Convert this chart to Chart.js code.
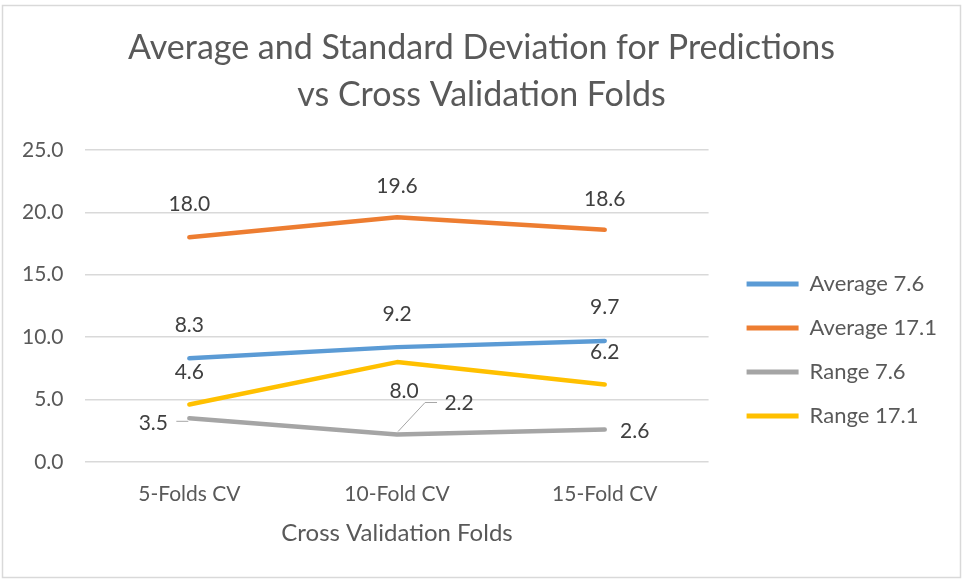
<!DOCTYPE html>
<html>
<head>
<meta charset="utf-8">
<script src="https://cdn.jsdelivr.net/npm/chart.js@4"></script>
<style>
html,body{margin:0;padding:0;background:#fff;}
#wrap{position:relative;width:963px;height:581px;}
</style>
</head>
<body>
<div id="wrap"><canvas id="c" width="963" height="581"></canvas></div>
<script>
const categories = ['5-Folds CV', '10-Fold CV', '15-Fold CV'];
const average76 = [8.3, 9.2, 9.7];
const average171 = [18.0, 19.6, 18.6];
const range76 = [3.5, 2.2, 2.6];
const range171 = [4.6, 8.0, 6.2];
const seriesNames = ['Average 7.6', 'Average 17.1', 'Range 7.6', 'Range 17.1'];
const titleLines = ['Average and Standard Deviation for Predictions', 'vs Cross Validation Folds'];
const xTitle = 'Cross Validation Folds';

const colors = ['#5B9BD5', '#ED7D31', '#A5A5A5', '#FFC000'];
// label offsets (dx, dy) relative to each point, per series
const labelOffsets = [
  [[0,-33],[0,-33],[0,-34]],
  [[0,-33],[0,-31],[0,-31]],
  [[-36,5],[62,-31],[30,2]],
  [[0,-32],[7,29],[0,-32]]
];
const FONT = 'Lato, "Open Sans", sans-serif';
const LEGEND_SHIFT = 16;
const TITLE_SHIFT = 16;

const labelPlugin = {
  id: 'pointLabels',
  afterLayout(chart) {
    // push the legend items away from the plot area, centre title on the frame
    if (chart.legend) { chart.legend.left += LEGEND_SHIFT; chart.legend.right += LEGEND_SHIFT; }
    if (chart.titleBlock) { chart.titleBlock.left += TITLE_SHIFT; chart.titleBlock.right += TITLE_SHIFT; }
  },
  afterDatasetsDraw(chart) {
    const ctx = chart.ctx;
    ctx.save();
    ctx.font = '21px ' + FONT;
    ctx.fillStyle = '#404040';
    ctx.textAlign = 'center';
    ctx.textBaseline = 'middle';
    chart.data.datasets.forEach((ds, i) => {
      const meta = chart.getDatasetMeta(i);
      meta.data.forEach((pt, j) => {
        const [dx, dy] = labelOffsets[i][j];
        ctx.fillText(ds.data[j].toFixed(1), pt.x + dx, pt.y + dy);
      });
    });
    // leader lines for the gray series
    const g = chart.getDatasetMeta(2).data;
    ctx.strokeStyle = '#A6A6A6';
    ctx.lineWidth = 1;
    ctx.beginPath();
    ctx.moveTo(g[0].x - 13, g[0].y + 3);
    ctx.lineTo(g[0].x - 1, g[0].y + 3);
    ctx.moveTo(g[1].x + 1, g[1].y - 3);
    ctx.lineTo(g[1].x + 28, g[1].y - 32);
    ctx.lineTo(g[1].x + 40, g[1].y - 32);
    ctx.stroke();
    ctx.restore();
  }
};

const borderPlugin = {
  id: 'frame',
  beforeDraw(chart) {
    const ctx = chart.ctx;
    ctx.save();
    ctx.fillStyle = '#fff';
    ctx.fillRect(0, 0, chart.width, chart.height);
    ctx.strokeStyle = '#D9D9D9';
    ctx.lineWidth = 1.5;
    ctx.strokeRect(2.5, 5.5, 958, 572);
    ctx.restore();
  }
};

const series = [average76, average171, range76, range171];
new Chart(document.getElementById('c'), {
  type: 'line',
  data: {
    labels: categories,
    datasets: series.map((d, i) => ({
      label: seriesNames[i],
      data: d,
      borderColor: colors[i],
      backgroundColor: colors[i],
      borderWidth: 4.5,
      pointRadius: 0,
      tension: 0,
      borderCapStyle: 'round',
      borderJoinStyle: 'round'
    }))
  },
  options: {
    responsive: false,
    animation: false,
    layout: { padding: { left: 0, right: 32, top: 0, bottom: 33 } },
    plugins: {
      title: {
        display: true,
        text: titleLines,
        color: '#595959',
        font: { family: FONT, size: 34, weight: 'normal', lineHeight: 1.38 },
        padding: { top: 25, bottom: 31 }
      },
      legend: {
        position: 'right',
        align: 'center',
        title: { display: true, text: ' ', font: { size: 12, lineHeight: 1 }, padding: { top: 140, bottom: 0 } },
        labels: {
          color: '#595959',
          font: { family: FONT, size: 22 },
          boxWidth: 52,
          boxHeight: 5,
          padding: 22,
          generateLabels(chart) {
            return chart.data.datasets.map((ds, i) => ({
              text: ds.label,
              fillStyle: ds.borderColor,
              strokeStyle: ds.borderColor,
              lineWidth: 0,
              fontColor: '#595959',
              datasetIndex: i
            }));
          }
        }
      },
      tooltip: { enabled: false }
    },
    scales: {
      x: {
        offset: true,
        grid: { display: false },
        border: { display: false },
        ticks: { color: '#595959', font: { family: FONT, size: 21 }, padding: 12 },
        title: { display: true, text: xTitle, color: '#595959', font: { family: FONT, size: 24 }, padding: { top: 0, bottom: 0 } }
      },
      y: {
        min: 0,
        max: 25,
        border: { display: false },
        grid: { color: '#D9D9D9', lineWidth: 1.5, drawTicks: false },
        ticks: {
          stepSize: 5,
          color: '#595959',
          font: { family: FONT, size: 21 },
          padding: 22,
          callback: v => v.toFixed(1)
        }
      }
    }
  },
  plugins: [borderPlugin, labelPlugin]
});
</script>
</body>
</html>
